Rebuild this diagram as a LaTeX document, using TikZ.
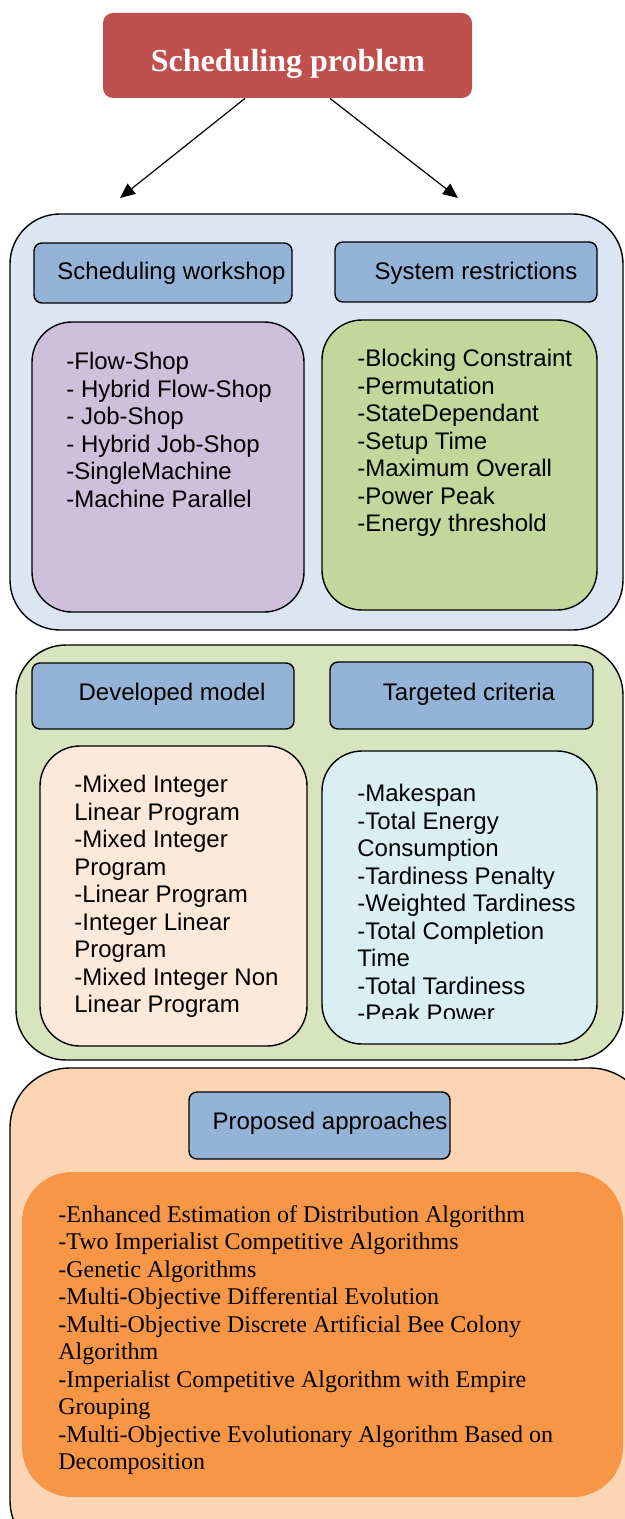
\documentclass[tikz,border=0pt]{standalone}
\usepackage{fontspec}
\setmainfont{Liberation Sans}
\newfontfamily\serifface{Liberation Serif}
\usetikzlibrary{arrows.meta}

\definecolor{titlered}{HTML}{C0504D}
\definecolor{headblue}{HTML}{95B3D7}
\definecolor{panelblue}{HTML}{DCE6F2}
\definecolor{panelgreen}{HTML}{D7E4BD}
\definecolor{panelpeach}{HTML}{FCD5B5}
\definecolor{listpurple}{HTML}{CCC0DA}
\definecolor{listgreen}{HTML}{C3D69B}
\definecolor{listpeach}{HTML}{FDE9D9}
\definecolor{listcyan}{HTML}{DBEEF4}
\definecolor{listorange}{HTML}{F79646}

\tikzset{
    panel/.style={draw=black, line width=0.7pt, rounded corners=25pt, inner sep=0pt},
    headbox/.style={draw=black, line width=0.7pt, fill=headblue, rounded corners=4pt, inner sep=0pt},
    listbox/.style={draw=black, line width=0.7pt, rounded corners=20pt, inner sep=0pt},
    itemtext/.style={anchor=north west, align=left, inner sep=0pt, font=\fontsize{12}{13.75}\selectfont},
    headtext/.style={anchor=base, inner sep=0pt, font=\fontsize{12}{13.75}\selectfont},
    arr/.style={-{Triangle[length=7.5pt,width=6.5pt]}, line width=0.6pt}
}

\begin{document}
\begin{tikzpicture}[x=0.5pt,y=-0.5pt]

    \useasboundingbox (0,0) rectangle (625,1519);
    \clip (0,0) rectangle (625,1519);

    % title
    \node[fill=titlered, rounded corners=5pt, minimum width=184.5pt, minimum height=42.5pt, inner sep=0pt] (title) at (287.5,55.5) {};
    \node[anchor=base, inner sep=0pt, text=white, font=\serifface\bfseries\fontsize{16}{19}\selectfont] (titleT) at (288,72) {Scheduling problem};

    \coordinate (leftTip) at (120,198);
    \coordinate (rightTip) at (458,198);
    \draw[arr] ([xshift=-21.25pt]title.south) -- (leftTip);
    \draw[arr] ([xshift=21.25pt]title.south) -- (rightTip);

    % first panel
    \node[panel, fill=panelblue, minimum width=306.5pt, minimum height=208pt] (shop) at (316.5,422) {};
    \node[headbox, minimum width=129pt, minimum height=30pt] (wsH) at (163,273) {};
    \node[headtext] (wsT) at (171.5,280) {Scheduling workshop};
    \node[headbox, minimum width=131pt, minimum height=30pt] (srH) at (466,272) {};
    \node[headtext] (srT) at (476,280) {System restrictions};
    \node[listbox, fill=listpurple, minimum width=136pt, minimum height=145pt] (wsL) at (168,467) {};
    \node[itemtext] (wsI) at (66,352) {-Flow-Shop\\- Hybrid Flow-Shop\\- Job-Shop\\- Hybrid Job-Shop\\-SingleMachine\\-Machine Parallel};
    \node[listbox, fill=listgreen, minimum width=137.5pt, minimum height=145pt] (srL) at (459.5,465) {};
    \node[itemtext] (srI) at (357,349) {-Blocking Constraint\\-Permutation\\-StateDependant\\-Setup Time\\-Maximum Overall\\-Power Peak\\-Energy threshold};

    % second panel
    \node[panel, fill=panelgreen, minimum width=303.5pt, minimum height=207.5pt] (model) at (319.5,852.5) {};
    \node[headbox, minimum width=131pt, minimum height=33pt] (dmH) at (163,696) {};
    \node[headtext] (dmT) at (172,700) {Developed model};
    \node[headbox, minimum width=131.5pt, minimum height=33.5pt] (tcH) at (461.5,695.5) {};
    \node[headtext] (tcT) at (469,700) {Targeted criteria};
    \node[listbox, fill=listpeach, minimum width=133.5pt, minimum height=150pt] (dmL) at (173.5,896) {};
    \node[itemtext] (dmI) at (74,775) {-Mixed Integer\\Linear Program\\-Mixed Integer\\Program\\-Linear Program\\-Integer Linear\\Program\\-Mixed Integer Non\\Linear Program};
    \node[listbox, fill=listcyan, minimum width=137.5pt, minimum height=146.5pt] (tcL) at (459.5,897.5) {};
    \begin{scope}
        \clip (322,751) rectangle (597,1018);
        \node[itemtext] (tcI) at (357,784) {-Makespan\\-Total Energy\\Consumption\\-Tardiness Penalty\\-Weighted Tardiness\\-Total Completion\\Time\\-Total Tardiness\\-Peak Power};
    \end{scope}

    % third panel
    \node[panel, rounded corners=30pt, fill=panelpeach, minimum width=320pt, minimum height=246pt] (approach) at (330,1314) {};
    \node[headbox, minimum width=130.5pt, minimum height=33.5pt] (paH) at (319.5,1125.5) {};
    \node[headtext] (paT) at (330,1129) {Proposed approaches};
    \node[fill=listorange, rounded corners=25pt, minimum width=300.5pt, minimum height=162.5pt, inner sep=0pt] (paL) at (322.5,1334.5) {};
    \node[itemtext, font=\serifface\fontsize{12}{13.75}\selectfont] (paI) at (58,1205) {-Enhanced Estimation of Distribution Algorithm\\-Two Imperialist Competitive Algorithms\\-Genetic Algorithms\\-Multi-Objective Differential Evolution\\-Multi-Objective Discrete Artificial Bee Colony\\Algorithm\\-Imperialist Competitive Algorithm with Empire\\Grouping\\-Multi-Objective Evolutionary Algorithm Based on\\Decomposition};

\end{tikzpicture}
\end{document}
